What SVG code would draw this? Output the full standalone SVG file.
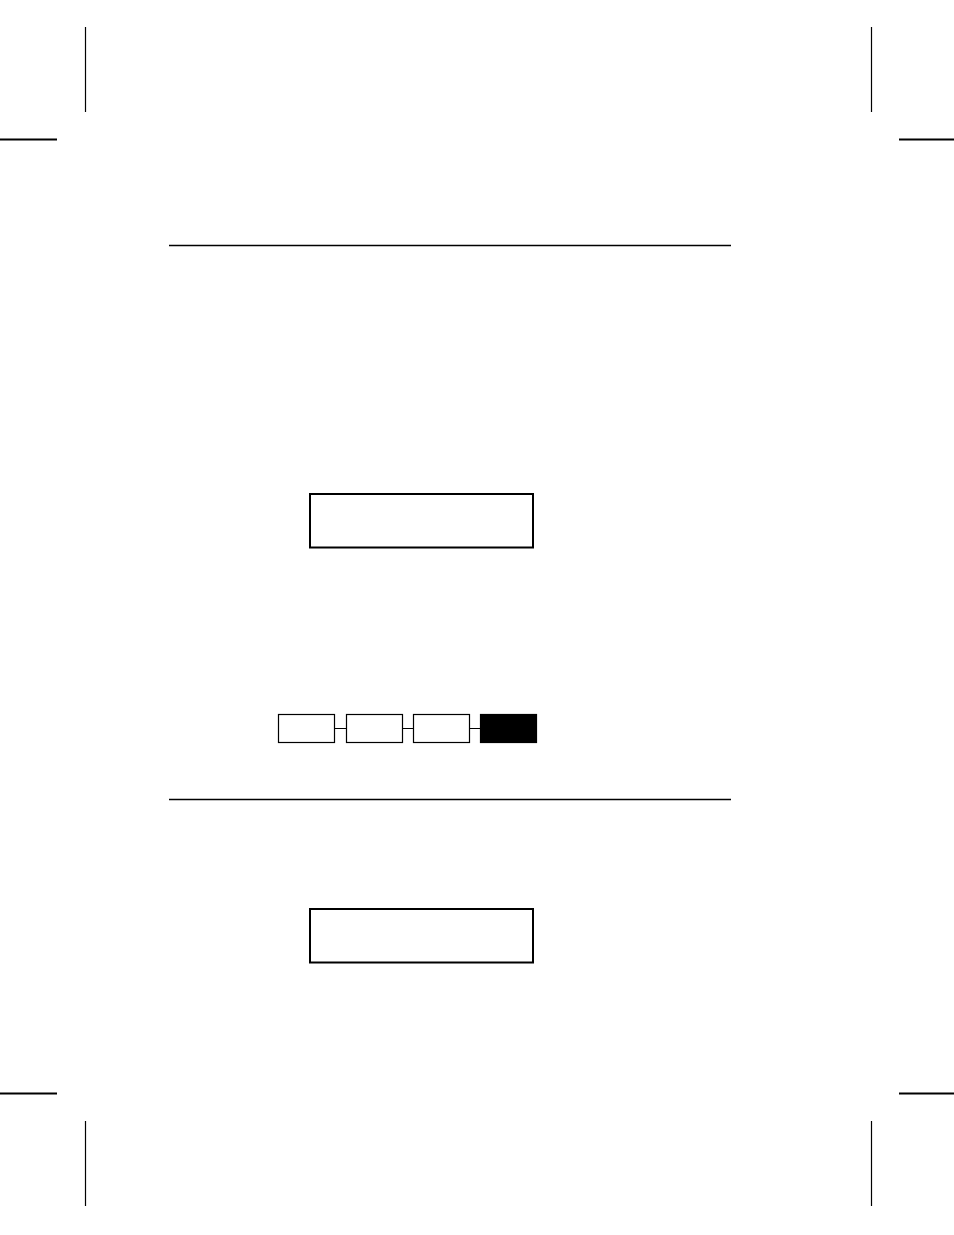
<svg xmlns="http://www.w3.org/2000/svg" width="954" height="1235" viewBox="0 0 954 1235">
<style>
.crop{stroke:#000;fill:none}
.rule{stroke:#000;stroke-width:1.3;fill:none}
.big{fill:#fff;stroke:#000;stroke-width:2}
.small{fill:#fff;stroke:#000;stroke-width:1.2}
.dark{fill:#000;stroke:#000;stroke-width:1.2}
.conn{stroke:#000;stroke-width:1;fill:none}
</style>
<rect width="954" height="1235" fill="#fff"/>
<g id="crop-marks" class="crop">
<line x1="85.5" y1="27" x2="85.5" y2="112" stroke-width="1.2"/>
<line x1="0" y1="139.5" x2="57" y2="139.5" stroke-width="1.8"/>
<line x1="871.5" y1="27" x2="871.5" y2="112" stroke-width="1.2"/>
<line x1="899" y1="139.5" x2="954" y2="139.5" stroke-width="1.8"/>
<line x1="0" y1="1093.5" x2="57" y2="1093.5" stroke-width="1.8"/>
<line x1="85.5" y1="1121" x2="85.5" y2="1206" stroke-width="1.2"/>
<line x1="899" y1="1093.5" x2="954" y2="1093.5" stroke-width="1.8"/>
<line x1="871.5" y1="1121" x2="871.5" y2="1206" stroke-width="1.2"/>
</g>
<g id="rules">
<line class="rule" x1="169" y1="245.5" x2="731" y2="245.5"/>
<line class="rule" x1="169" y1="799.5" x2="731" y2="799.5"/>
</g>
<g id="box1"><rect class="big" x="310" y="494" width="223" height="53.5"/></g>
<g id="box2"><rect class="big" x="310" y="909" width="223" height="53.5"/></g>
<g id="connectors">
<line class="conn" x1="334.5" y1="728.5" x2="346.5" y2="728.5"/>
<line class="conn" x1="402.5" y1="728.5" x2="413.5" y2="728.5"/>
<line class="conn" x1="469.5" y1="728.5" x2="480.5" y2="728.5"/>
</g>
<g id="seg1"><rect class="small" x="278.5" y="714.5" width="56" height="28"/></g>
<g id="seg2"><rect class="small" x="346.5" y="714.5" width="56" height="28"/></g>
<g id="seg3"><rect class="small" x="413.5" y="714.5" width="56" height="28"/></g>
<g id="seg4"><rect class="dark" x="480.5" y="714.5" width="56" height="28"/></g>
</svg>
